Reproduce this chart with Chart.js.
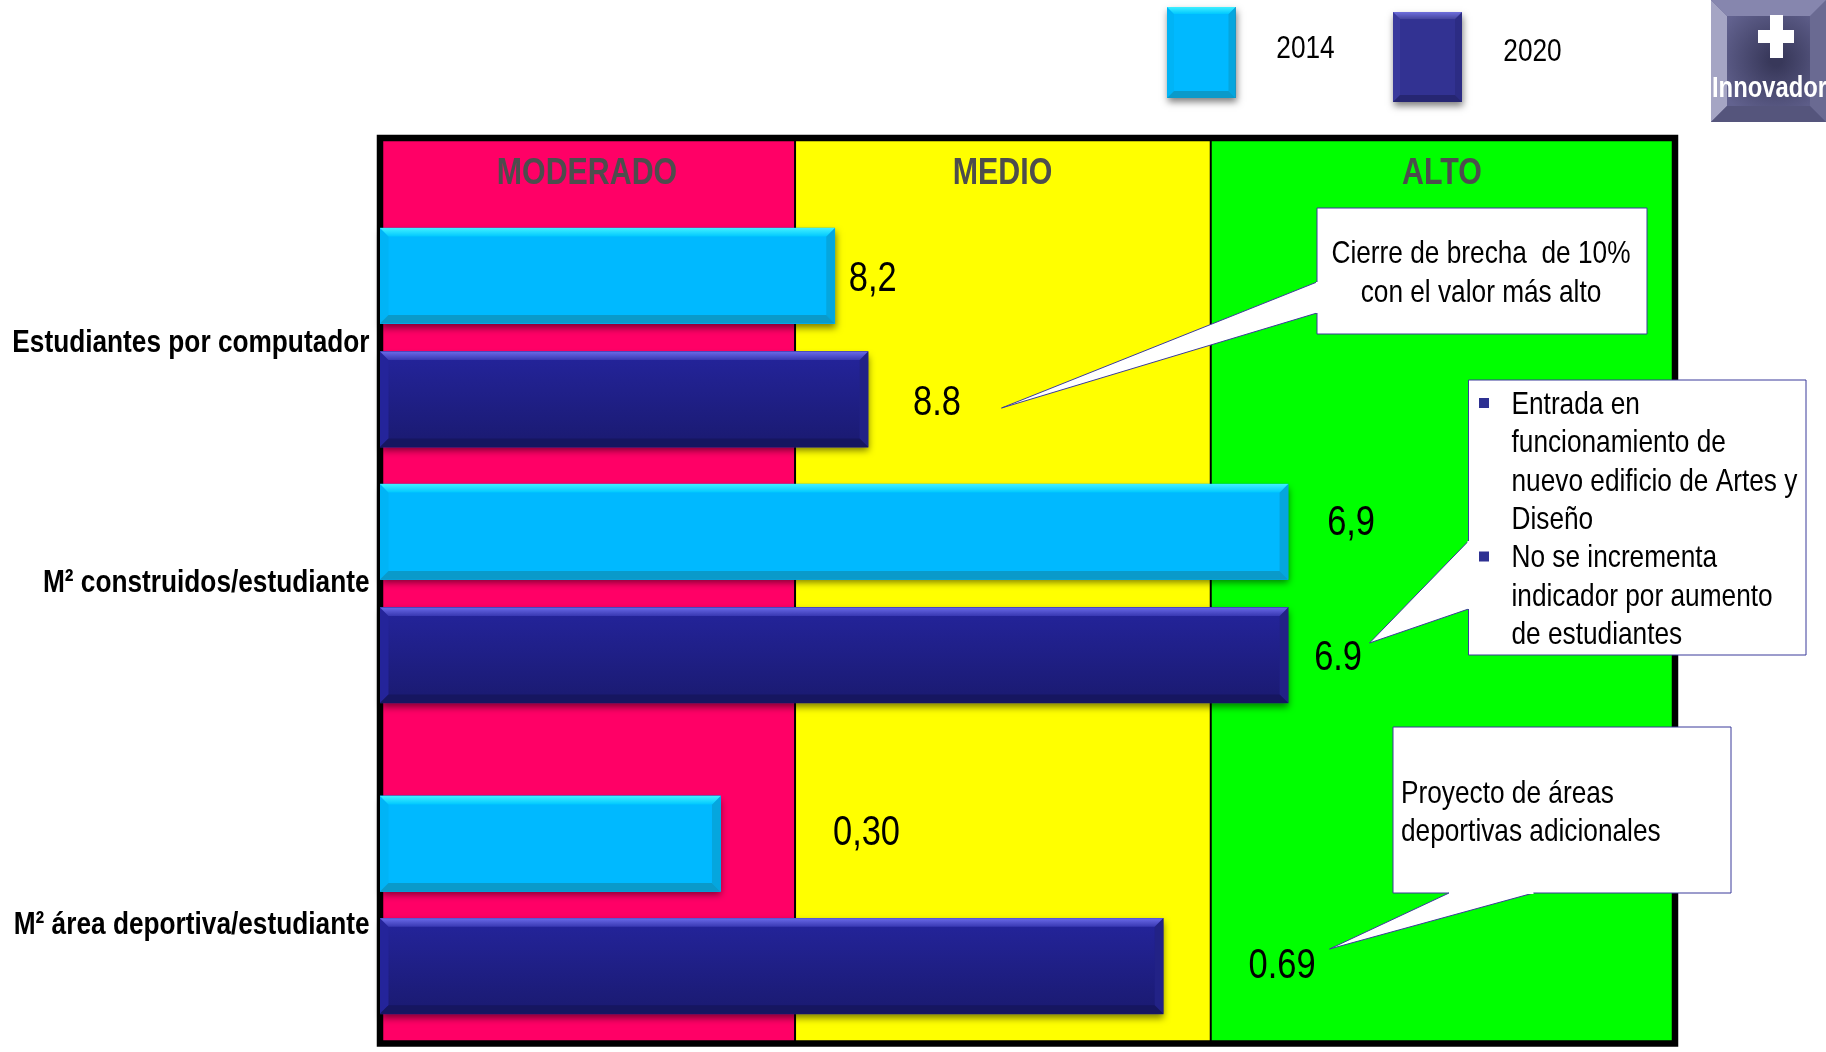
<!DOCTYPE html>
<html lang="es">
<head>
<meta charset="utf-8">
<title>Indicadores de infraestructura 2014 - 2020</title>
<script src="https://cdn.jsdelivr.net/npm/chart.js@4/dist/chart.umd.js"></script>
<style>
html,body{margin:0;padding:0;background:#fff;overflow:hidden}
canvas{display:block}
</style>
</head>
<body>
<canvas id="grafico" width="1826" height="1052"></canvas>
<script>
// Indicators and readings per year
const categories = ['Estudiantes por computador', 'M² construidos/estudiante', 'M² área deportiva/estudiante'];
const years = ['2014', '2020'];
const values2014 = [8.2, 6.9, 0.30];
const values2020 = [8.8, 6.9, 0.69];
const labels2014 = ['8,2', '6,9', '0,30'];
const labels2020 = ['8.8', '6.9', '0.69'];
const zoneNames = ['MODERADO', 'MEDIO', 'ALTO'];
const zoneColors = ['#FF0066', '#FFFF00', '#00FF00'];

// Each indicator is read on its own hidden axis, since their units differ
const axisMaxima = [23.35, 9.84, 1.141];
const zoneEdges = [0, 0.3205, 0.6415, 1];

// Vertical layout, in bar slots along the hidden y axis
const slotSpan = 7.336;
const barSlots = [[1.117, 2.117], [3.19, 4.19], [5.717, 6.709]];
const labelSlots = [1.644, 3.587, 6.356];

const FONT = '"Liberation Sans", Arial, sans-serif';
const NARROW = 0.82;

const skins = {
  '2014': {face: ['#00B9FF', '#00B9FF'], top: ['#40F0FF', '#00C8FF'], left: '#00B4F6', right: '#05A6DE', bottom: '#0A9ACA'},
  '2020': {face: ['#24249C', '#1A1A70'], top: ['#6A6AE8', '#3838B2'], left: '#24249A', right: '#222286', bottom: '#161660'}
};
const legendSkin2020 = {face: ['#323292', '#323292'], top: ['#6E6EDC', '#44449E'], left: '#3A3A9C', right: '#2C2C84', bottom: '#262672'};

const datasets = [];
categories.forEach((name, i) => {
  years.forEach((year, j) => {
    const value = (j === 0 ? values2014 : values2020)[i];
    datasets.push({
      label: name + ' ' + year,
      year,
      valueLabel: (j === 0 ? labels2014 : labels2020)[i],
      xAxisID: 'x' + i,
      data: [{x: value, y: barSlots[i][j]}],
      backgroundColor: skins[year].face[0],
      barThickness: 95.5,
      grouped: false
    });
  });
});

// Offset of each printed value from the tip of its bar
const valueOffsets = [[38, 4], [69, 4], [63, -8.5], [50, 3], [146, -10], [119, 0.5]];

const callouts = [
  {rect: [1317, 208, 1647, 334],
   outline: [[1317, 282], [1001.5, 408], [1317, 313]],
   lines: [['Cierre de brecha  de 10%', 1481, 254.5, 'center'], ['con el valor más alto', 1481, 293, 'center']]},
  {rect: [1468.5, 380, 1806, 655],
   outline: [[1468.5, 541], [1369.5, 643], [1468.5, 609]],
   bullets: [[1484, 403], [1484, 556.5]],
   lines: [['Entrada en', 1511.5, 405], ['funcionamiento de', 1511.5, 443.5], ['nuevo edificio de Artes y', 1511.5, 482],
           ['Diseño', 1511.5, 520], ['No se incrementa', 1511.5, 558.5], ['indicador por aumento', 1511.5, 597], ['de estudiantes', 1511.5, 635.5]]},
  {rect: [1393, 727, 1731, 893],
   outline: [[1449, 893], [1329.5, 949], [1533.5, 893]],
   lines: [['Proyecto de áreas', 1401, 794], ['deportivas adicionales', 1401, 832.5]]}
];

// Arial-Narrow-like text: the regular face squeezed horizontally
function narrowText(ctx, text, x, y, align) {
  ctx.save();
  ctx.translate(x, y);
  ctx.scale(NARROW, 1);
  ctx.textAlign = align || 'left';
  ctx.textBaseline = 'middle';
  ctx.fillText(text, 0, 0);
  ctx.restore();
}

function bevelBox(ctx, x0, y0, x1, y1, b, skin) {
  const poly = (pts, fill) => {
    ctx.beginPath();
    pts.forEach((p, i) => i ? ctx.lineTo(p[0], p[1]) : ctx.moveTo(p[0], p[1]));
    ctx.closePath();
    ctx.fillStyle = fill;
    ctx.fill();
  };
  const face = ctx.createLinearGradient(0, y0, 0, y1);
  face.addColorStop(0, skin.face[0]);
  face.addColorStop(1, skin.face[1]);
  ctx.fillStyle = face;
  ctx.fillRect(x0, y0, x1 - x0, y1 - y0);
  const top = ctx.createLinearGradient(0, y0, 0, y0 + b);
  top.addColorStop(0, skin.top[0]);
  top.addColorStop(1, skin.top[1]);
  poly([[x0, y0], [x0 + b, y0 + b], [x0 + b, y1 - b], [x0, y1]], skin.left);
  poly([[x1, y0], [x1 - b, y0 + b], [x1 - b, y1 - b], [x1, y1]], skin.right);
  poly([[x0, y1], [x0 + b, y1 - b], [x1 - b, y1 - b], [x1, y1]], skin.bottom);
  poly([[x0, y0], [x0 + b, y0 + b], [x1 - b, y0 + b], [x1, y0]], top);
}

function castShadow(ctx, x, y, w, h) {
  ctx.save();
  ctx.shadowColor = 'rgba(0,0,0,0.5)';
  ctx.shadowBlur = 7;
  ctx.shadowOffsetX = 1;
  ctx.shadowOffsetY = 4;
  ctx.fillStyle = '#000';
  ctx.fillRect(x, y, w, h);
  ctx.restore();
}

const backdrop = {
  id: 'backdrop',
  beforeDatasetsDraw(chart) {
    const {ctx, chartArea: a} = chart;
    const w = a.right - a.left;
    ctx.save();
    zoneColors.forEach((color, i) => {
      ctx.fillStyle = color;
      ctx.fillRect(a.left + zoneEdges[i] * w, a.top, (zoneEdges[i + 1] - zoneEdges[i]) * w, a.bottom - a.top);
    });
    ctx.fillStyle = '#000';
    [1, 2].forEach(i => ctx.fillRect(a.left + zoneEdges[i] * w - 1, a.top, 2, a.bottom - a.top));
    ctx.font = 'bold 37px ' + FONT;
    ctx.fillStyle = '#4D4D4D';
    [587, 1002.5, 1442].forEach((cx, i) => narrowText(ctx, zoneNames[i], cx, 173.5, 'center'));
    ctx.strokeStyle = '#000';
    ctx.lineWidth = 6.5;
    ctx.strokeRect(a.left, a.top, w, a.bottom - a.top);

    // Indicator names to the left of the plot
    const yScale = chart.scales.y;
    ctx.font = 'bold 32px ' + FONT;
    ctx.fillStyle = '#000';
    categories.forEach((name, i) => narrowText(ctx, name, 369.5, yScale.getPixelForValue(labelSlots[i]) + 2.5, 'right'));
    ctx.restore();
  },
  beforeDatasetDraw(chart, args) {
    const bar = chart.getDatasetMeta(args.index).data[0];
    castShadow(chart.ctx, bar.base, bar.y - bar.height / 2, bar.x - bar.base, bar.height);
  },
  afterDatasetDraw(chart, args) {
    const bar = chart.getDatasetMeta(args.index).data[0];
    const set = chart.data.datasets[args.index];
    bevelBox(chart.ctx, bar.base, bar.y - bar.height / 2, bar.x, bar.y + bar.height / 2, 8.5, skins[set.year]);
  }
};

const overlays = {
  id: 'overlays',
  afterDatasetsDraw(chart) {
    const {ctx} = chart;
    ctx.save();

    // Printed values next to the bars
    ctx.font = '42px ' + FONT;
    ctx.fillStyle = '#000';
    chart.data.datasets.forEach((set, i) => {
      const bar = chart.getDatasetMeta(i).data[0];
      narrowText(ctx, set.valueLabel, bar.x + valueOffsets[i][0], bar.y + valueOffsets[i][1], 'center');
    });

    // Callout boxes with their pointers
    callouts.forEach(c => {
      const [x0, y0, x1, y1] = c.rect;
      ctx.beginPath();
      ctx.rect(x0, y0, x1 - x0, y1 - y0);
      ctx.fillStyle = '#fff';
      ctx.fill();
      ctx.strokeStyle = '#3B3B9A';
      ctx.lineWidth = 1;
      ctx.stroke();
      ctx.beginPath();
      c.outline.forEach((p, i) => i ? ctx.lineTo(p[0], p[1]) : ctx.moveTo(p[0], p[1]));
      ctx.fill();
      ctx.stroke();
      // cover the box edge where the pointer joins it
      ctx.strokeStyle = '#fff';
      ctx.lineWidth = 2;
      ctx.beginPath();
      ctx.moveTo(c.outline[0][0], c.outline[0][1]);
      ctx.lineTo(c.outline[2][0], c.outline[2][1]);
      ctx.stroke();
      (c.bullets || []).forEach(b => {
        ctx.fillStyle = '#2E3192';
        ctx.fillRect(b[0] - 5, b[1] - 5, 10, 10);
      });
      ctx.fillStyle = '#000';
      ctx.font = '32px ' + FONT;
      c.lines.forEach(l => narrowText(ctx, l[0], l[1], l[2], l[3]));
    });

    // Legend
    castShadow(ctx, 1167, 7, 68.5, 91);
    bevelBox(ctx, 1167, 7, 1235.5, 98, 7, skins['2014']);
    castShadow(ctx, 1393, 12, 69, 90);
    bevelBox(ctx, 1393, 12, 1462, 102, 7, legendSkin2020);
    ctx.font = '32px ' + FONT;
    ctx.fillStyle = '#000';
    narrowText(ctx, years[0], 1305.5, 49, 'center');
    narrowText(ctx, years[1], 1532.5, 52, 'center');

    // "Innovador" level badge in the corner
    const bx0 = 1711, by0 = 0, bx1 = 1826, by1 = 122, bw = 16;
    const glow = ctx.createRadialGradient(1776, 60, 6, 1776, 60, 62);
    glow.addColorStop(0, '#38385A');
    glow.addColorStop(1, '#62628F');
    bevelBox(ctx, bx0, by0, bx1, by1, bw, {face: ['#62628F', '#62628F'], top: ['#8686AE', '#8686AE'],
      left: '#A5A5C4', right: '#6A6A92', bottom: '#55557C'});
    ctx.fillStyle = glow;
    ctx.fillRect(bx0 + bw, by0 + bw, bx1 - bx0 - 2 * bw, by1 - by0 - 2 * bw);
    ctx.fillStyle = '#fff';
    ctx.fillRect(1770, 15, 13, 43);
    ctx.fillRect(1758, 30, 36, 13);
    ctx.font = 'bold 29px ' + FONT;
    narrowText(ctx, 'Innovador', 1712, 89);
    ctx.restore();
  }
};

const xScales = {};
axisMaxima.forEach((max, i) => {
  xScales['x' + i] = {type: 'linear', display: false, min: 0, max, grid: {display: false}};
});

new Chart(document.getElementById('grafico'), {
  type: 'bar',
  data: {datasets},
  plugins: [backdrop, overlays],
  options: {
    indexAxis: 'y',
    responsive: false,
    animation: false,
    parsing: {xAxisKey: 'x', yAxisKey: 'y'},
    layout: {padding: {top: 138, right: 151, bottom: 8.5, left: 0}},
    plugins: {legend: {display: false}, tooltip: {enabled: false}, title: {display: false}},
    scales: {
      ...xScales,
      y: {
        type: 'linear',
        offset: false,
        min: 0,
        max: slotSpan,
        reverse: true,
        border: {display: false},
        grid: {display: false, drawTicks: false},
        afterFit(scale) { scale.width = 380; },
        ticks: {display: false}
      }
    }
  }
});
</script>
</body>
</html>
